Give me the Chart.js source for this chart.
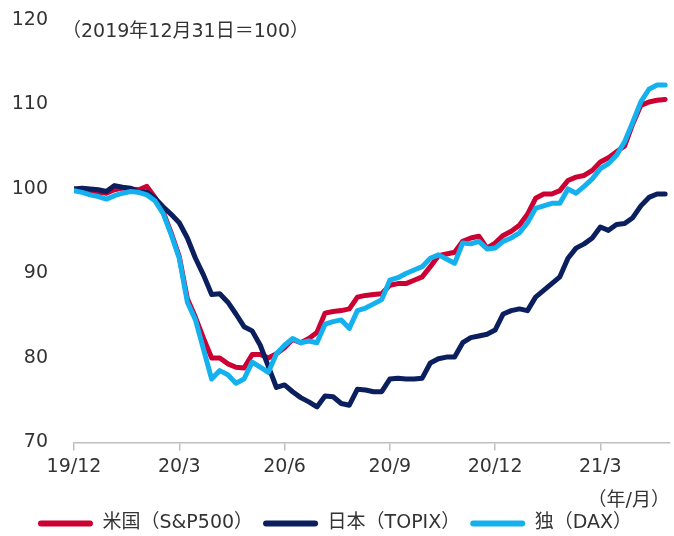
<!DOCTYPE html>
<html>
<head>
<meta charset="utf-8">
<script src="https://cdn.jsdelivr.net/npm/chart.js@4.4.0/dist/chart.umd.min.js"></script>
<style>
  html, body { margin: 0; padding: 0; background: #fff; }
  #wrap { width: 674px; height: 536px; }
</style>
</head>
<body>
<div id="wrap"><canvas id="c"></canvas></div>
<script>
// weekly index, week 0 = 2019/12/31
const tickWeeks = [0, 13, 26, 39, 52, 65];
const tickLabels = ["19/12", "20/3", "20/6", "20/9", "20/12", "21/3"];
const seriesNames = ["米国（S&P500）", "日本（TOPIX）", "独（DAX）"];

const usSP500 = [
  100, 99.9, 99.8, 99.6, 99.5, 99.9, 100.1, 100, 99.9, 100.3,
  99.0, 97.3, 94.8, 92.0, 87.0, 84.8, 82.3, 80.0, 80.0, 79.3,
  78.9, 78.8, 80.4, 80.4, 80.0, 80.5, 81.2, 82.2, 81.8, 82.3,
  83.0, 85.3, 85.5, 85.6, 85.8, 87.2, 87.4, 87.5, 87.6, 88.6,
  88.8, 88.8, 89.2, 89.6, 90.8, 92.1, 92.3, 92.5, 93.8, 94.2,
  94.4, 93.0, 93.6, 94.5, 95.0, 95.7, 97.0, 98.9, 99.4, 99.4,
  99.8, 101.0, 101.4, 101.6, 102.2, 103.2, 103.7, 104.4, 105.1, 107.7,
  109.9, 110.3, 110.5, 110.6
];
const jpTOPIX = [
  100, 100.1, 100.0, 99.9, 99.7, 100.4, 100.2, 100.1, 99.6, 99.6,
  98.9, 97.9, 97.0, 96.0, 94.2, 91.8, 89.8, 87.5, 87.6, 86.6,
  85.2, 83.7, 83.2, 81.5, 79.0, 76.5, 76.8, 76.0, 75.3, 74.8,
  74.2, 75.5, 75.4, 74.6, 74.4, 76.3, 76.2, 76.0, 76.0, 77.5,
  77.6, 77.5, 77.5, 77.6, 79.4, 79.9, 80.1, 80.1, 81.8, 82.4,
  82.6, 82.8, 83.3, 85.2, 85.6, 85.8, 85.6, 87.2, 88.0, 88.8,
  89.6, 91.8, 93.0, 93.5, 94.2, 95.5, 95.1, 95.8, 95.9, 96.6,
  98.0, 99.0, 99.4, 99.4
];
const deDAX = [
  99.8, 99.6, 99.3, 99.1, 98.8, 99.2, 99.5, 99.7, 99.6, 99.3,
  98.6, 97.1, 94.6, 91.8, 86.6, 84.5, 81.0, 77.5, 78.5, 78.0,
  77.0, 77.5, 79.5, 78.9, 78.3, 80.5, 81.5, 82.3, 81.8, 82.0,
  81.8, 84.0, 84.3, 84.5, 83.5, 85.6, 85.9, 86.4, 86.9, 89.2,
  89.5, 90.0, 90.4, 90.8, 91.8, 92.2, 91.7, 91.2, 93.6, 93.5,
  93.8, 92.9, 93.0, 93.8, 94.2, 94.8, 96.0, 97.7, 98.0, 98.3,
  98.3, 100.0, 99.5, 100.3, 101.2, 102.4, 103.0, 104.0, 105.6, 107.9,
  110.3, 111.8, 112.3, 112.3
];

const FONT = "'DejaVu Sans', 'Noto Sans CJK JP', sans-serif";
const TEXT = "#333333";

const toPoints = arr => arr.map((v, i) => ({ x: i, y: v }));

const noteText = "（2019年12月31日＝100）";
const notePlugin = {
  id: "note",
  afterDraw(chart) {
    const ctx = chart.ctx;
    const area = chart.chartArea;
    ctx.save();
    ctx.font = "19px " + FONT;
    ctx.fillStyle = TEXT;
    ctx.textBaseline = "middle";
    ctx.textAlign = "left";
    ctx.fillText(noteText, area.left - 12, area.top + 12);
    ctx.restore();
  },
};

const line = (label, data, color, order) => ({
  label: label,
  data: toPoints(data),
  borderColor: color,
  backgroundColor: color,
  borderWidth: 5,
  pointRadius: 0,
  tension: 0,
  borderJoinStyle: "round",
  borderCapStyle: "round",
  order: order,
});

new Chart(document.getElementById("c"), {
  type: "line",
  data: {
    datasets: [
      line(seriesNames[0], usSP500, "#CC0033", 3),
      line(seriesNames[1], jpTOPIX, "#0B1F5E", 2),
      line(seriesNames[2], deDAX, "#14B1EE", 1),
    ],
  },
  options: {
    responsive: true,
    maintainAspectRatio: false,
    animation: false,
    layout: { padding: { top: 20, right: 4, left: 0, bottom: -7 } },
    scales: {
      x: {
        type: "linear",
        min: 0,
        max: 73.6,
        afterBuildTicks: scale => {
          scale.ticks = tickWeeks.map(v => ({ value: v }));
        },
        ticks: {
          autoSkip: false,
          maxRotation: 0,
          padding: 5,
          color: TEXT,
          font: { family: FONT, size: 19 },
          callback: v => {
            const k = tickWeeks.indexOf(v);
            return k >= 0 ? tickLabels[k] : "";
          },
        },
        grid: { drawOnChartArea: false, tickLength: 8, color: "#BFBFBF", lineWidth: 1.5 },
        border: { display: true, color: "#BFBFBF", width: 1.5 },
        title: {
          display: true,
          text: "（年/月）",
          align: "end",
          color: TEXT,
          font: { family: FONT, size: 19 },
          padding: { top: 6, bottom: -8 },
        },
      },
      y: {
        min: 70,
        max: 120,
        afterFit: scale => {
          scale.width = 74;
          scale.paddingTop = 0;
        },
        ticks: {
          stepSize: 10,
          padding: 18,
          color: TEXT,
          font: { family: FONT, size: 19 },
        },
        grid: { display: false },
        border: { display: false },
      },
    },
    plugins: {
      legend: {
        position: "bottom",
        labels: {
          sort: (a, b) => a.datasetIndex - b.datasetIndex,
          generateLabels: chart => {
            const items = Chart.defaults.plugins.legend.labels.generateLabels(chart);
            items.forEach(it => { it.lineWidth = 0; });
            return items;
          },
          boxWidth: 55,
          boxHeight: 6,
          useBorderRadius: true,
          borderRadius: 3,
          padding: 10,
          color: TEXT,
          font: { family: FONT, size: 19 },
        },
      },
      tooltip: { enabled: false },
    },
  },
  plugins: [notePlugin],
});
</script>
</body>
</html>
